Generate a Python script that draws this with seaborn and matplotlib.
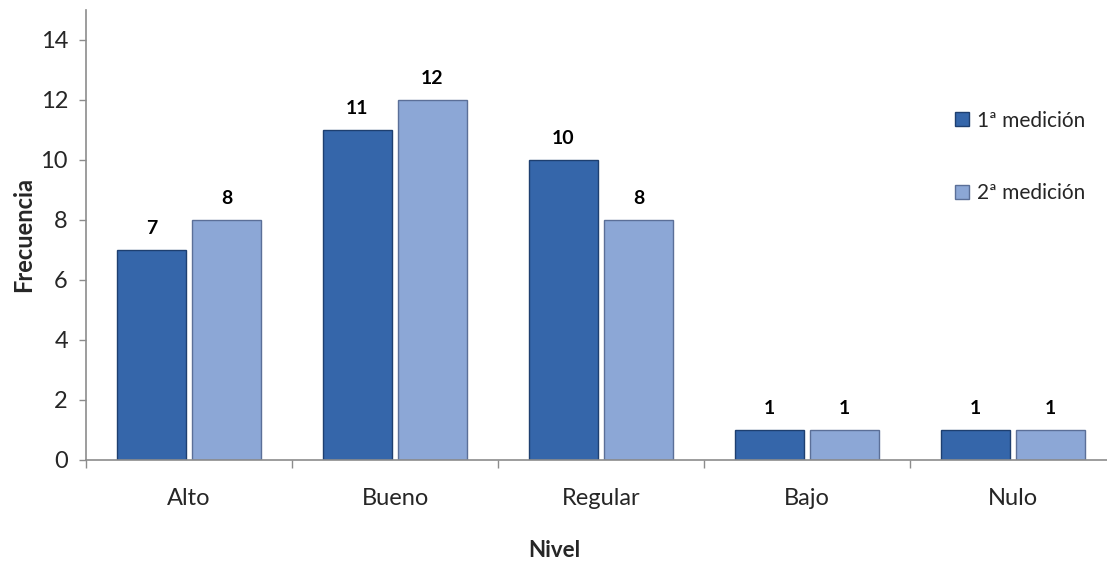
import matplotlib
matplotlib.use("Agg")
import matplotlib.pyplot as plt
import pandas as pd
import seaborn as sns

niveles = ["Alto", "Bueno", "Regular", "Bajo", "Nulo"]
medicion_1 = [7, 11, 10, 1, 1]
medicion_2 = [8, 12, 8, 1, 1]
series = ["1ª medición", "2ª medición"]

df = pd.DataFrame(
    {
        "Nivel": niveles * 2,
        "Frecuencia": medicion_1 + medicion_2,
        "serie": [series[0]] * len(niveles) + [series[1]] * len(niveles),
    }
)

sns.set_theme(style="white")
plt.rcParams["font.family"] = ["Lato", "DejaVu Sans"]

W, H = 1107, 561
fig = plt.figure(figsize=(W / 100, H / 100), dpi=100)
ax = fig.add_axes([86 / W, (H - 460) / H, 1030 / W, 450 / H])

palette = {series[0]: "#3566AA", series[1]: "#8CA7D6"}
sns.barplot(
    data=df,
    x="Nivel",
    y="Frecuencia",
    hue="serie",
    palette=palette,
    width=0.728,
    gap=0.067,
    saturation=1,
    ax=ax,
    legend=False,
)

edges = {series[0]: "#1E3F70", series[1]: "#5B6F98"}
for cont, s in zip(ax.containers, series):
    for bar in cont:
        bar.set_edgecolor(edges[s])
        bar.set_linewidth(1.0)
    ax.bar_label(cont, padding=9, fontsize=14, fontweight="bold", color="black")

ax.set_ylim(0, 15)
ax.set_xlim(-0.5, 4.5)
ax.set_yticks(range(0, 15, 2))
ax.tick_params(axis="y", labelsize=17, length=5, width=1, color="#8c8c8c", left=True, pad=8)
ax.tick_params(axis="x", which="major", labelsize=17, length=0, pad=20)
ax.set_xticks([i + 0.5 for i in range(-1, 5)], minor=True)
ax.tick_params(axis="x", which="minor", length=6, width=1, color="#8c8c8c", bottom=True)

sns.despine(ax=ax)
for side in ["left", "bottom"]:
    ax.spines[side].set_color("#8c8c8c")
    ax.spines[side].set_linewidth(1.2)

ax.set_ylabel("Frecuencia", fontsize=17, fontweight="bold", labelpad=4)
ax.set_xlabel("Nivel", fontsize=16, fontweight="bold")
ax.xaxis.set_label_coords(0.455, -0.178)

handles = [
    plt.Line2D([], [], marker="s", linestyle="none", markersize=10,
               markerfacecolor=palette[s], markeredgecolor=edges[s])
    for s in series
]
fig.legend(
    handles,
    series,
    loc="upper left",
    bbox_to_anchor=(933 / W, 1 - 92 / H),
    frameon=False,
    fontsize=15,
    labelspacing=2.5,
    handletextpad=0.2,
    handlelength=1.0,
)

fig.savefig("out.png", dpi=100)
